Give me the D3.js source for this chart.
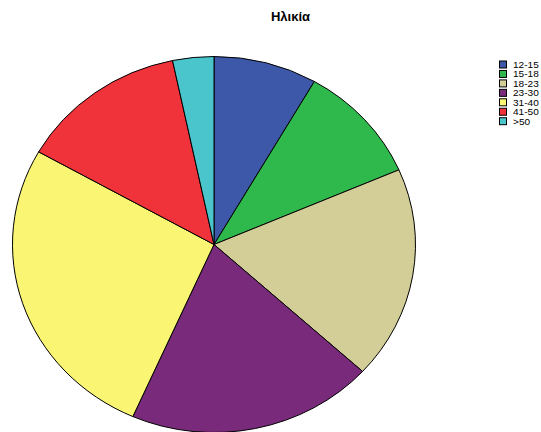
<!DOCTYPE html>
<html>
<head>
<meta charset="utf-8">
<script src="https://cdn.jsdelivr.net/npm/d3@7"></script>
<style>
  html, body { margin: 0; padding: 0; background: #fff; }
  svg { display: block; }
</style>
</head>
<body>
<svg id="chart" width="541" height="432"></svg>
<script>
// Age groups and their share of respondents (%)
const categories = ["12-15", "15-18", "18-23", "23-30", "31-40", "41-50", ">50"];
const values = [8.3, 10.2, 18.3, 19.8, 26.6, 13.5, 3.3];
const colors = ["#3d58a8", "#2fb84c", "#d3ce98", "#7a2a7b", "#faf673", "#f0333b", "#4ac5cb"];
const title = "Ηλικία";

const svg = d3.select("#chart");

// Title
svg.append("text")
  .attr("x", 290.5)
  .attr("y", 21)
  .attr("text-anchor", "middle")
  .attr("font-family", "Liberation Sans, Arial, sans-serif")
  .attr("font-weight", "bold")
  .attr("font-size", 13)
  .attr("fill", "#000")
  .text(title);

// Elliptical pie: a circle of radius ry stretched horizontally
const cx = 214, cy = 244.5, rx = 201.5, ry = 188;
const pie = d3.pie().sort(null).value(d => d);
const arc = d3.arc().innerRadius(0).outerRadius(ry);

const g = svg.append("g")
  .attr("transform", `translate(${cx},${cy}) scale(${rx / ry},1)`);

g.selectAll("path")
  .data(pie(values))
  .join("path")
  .attr("d", arc)
  .attr("fill", (d, i) => colors[i])
  .attr("stroke", "#000")
  .attr("stroke-width", 1)
  .attr("vector-effect", "non-scaling-stroke")
  .attr("stroke-linejoin", "round");

// Legend
const legend = svg.append("g").attr("transform", "translate(499,60.5)");
const rowH = 9.45;
const item = legend.selectAll("g")
  .data(categories)
  .join("g")
  .attr("transform", (d, i) => `translate(0,${i * rowH})`);

item.append("rect")
  .attr("x", 0.5).attr("y", 0.5)
  .attr("width", 7).attr("height", 7)
  .attr("fill", (d, i) => colors[i])
  .attr("stroke", "#000")
  .attr("stroke-width", 1);

// Labels: slightly widened 9px type to keep rows from colliding
item.append("text")
  .attr("transform", "translate(14,7.5) scale(1.12,1)")
  .attr("font-family", "Liberation Sans, Arial, sans-serif")
  .attr("font-size", 9)
  .attr("fill", "#000")
  .text(d => d);
</script>
</body>
</html>
